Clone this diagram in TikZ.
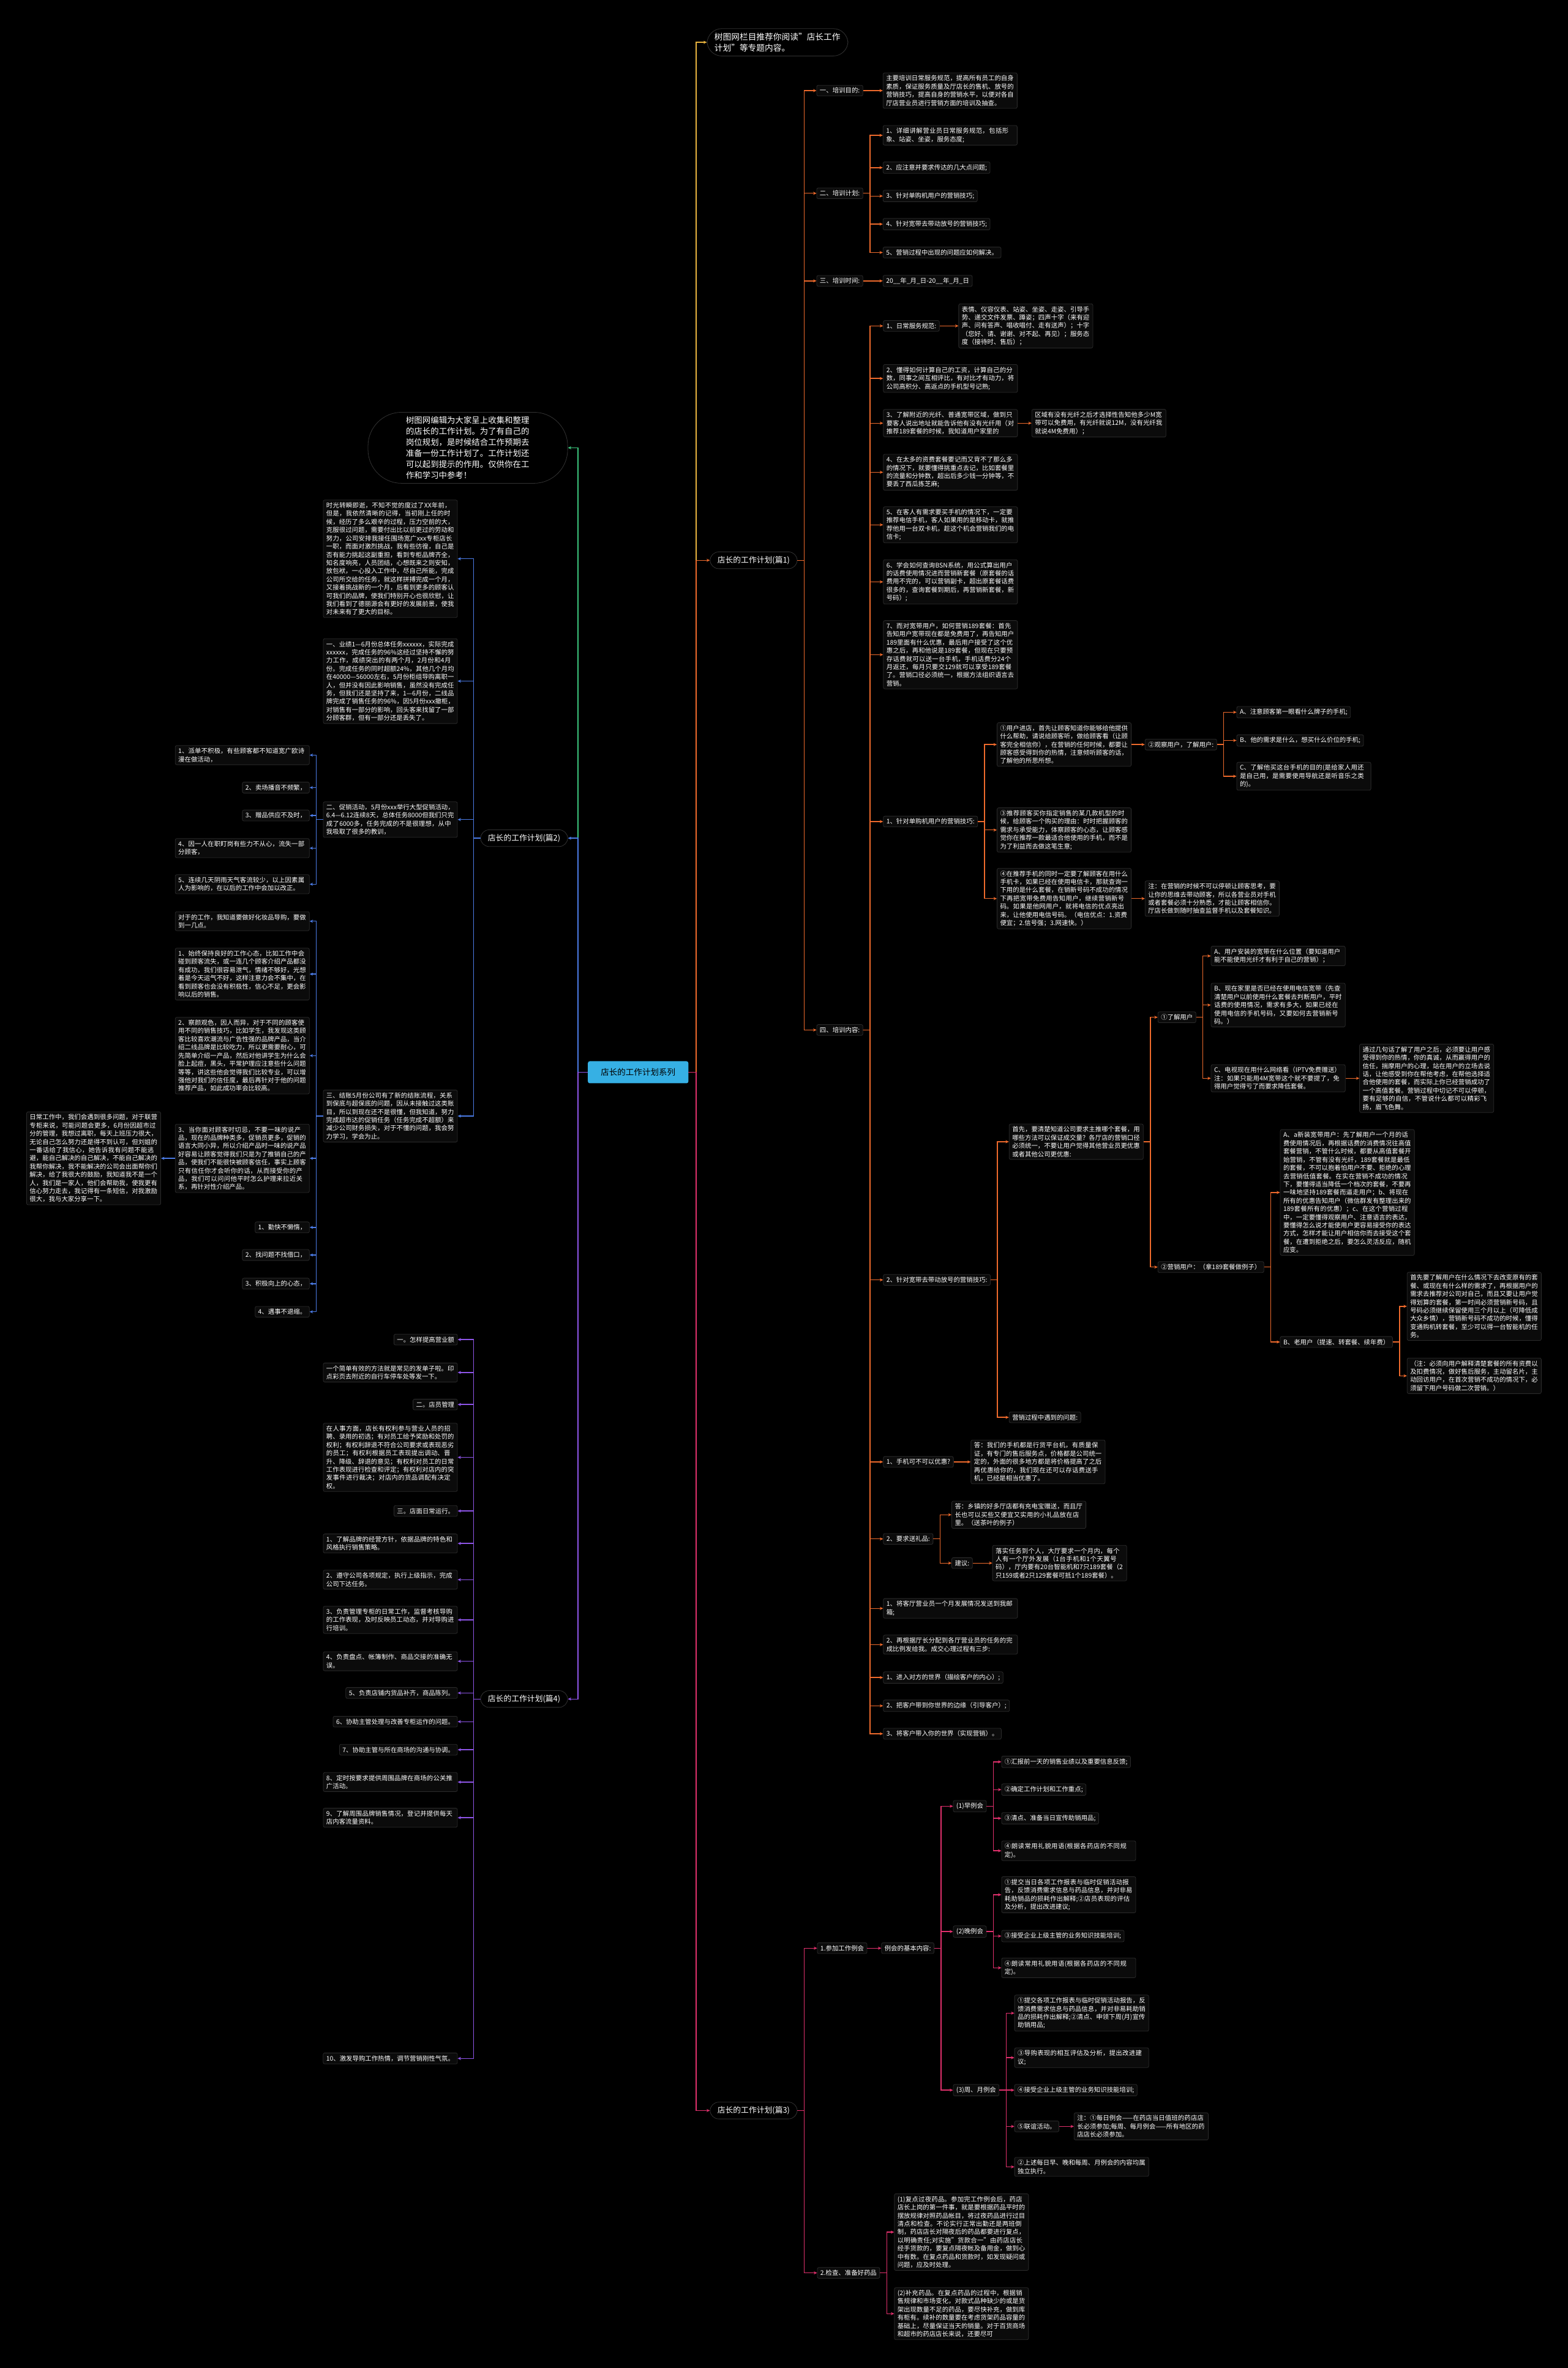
\documentclass[tikz,border=0pt]{standalone}
\usepackage{fontspec}
\setmainfont{Noto Sans CJK SC}
\usetikzlibrary{arrows.meta}
\XeTeXlinebreaklocale "zh"
\XeTeXlinebreakskip=0pt plus 1pt

\definecolor{goldline}{HTML}{E9B43F}
\definecolor{orangeline}{HTML}{EE6A2C}
\definecolor{pinkline}{HTML}{E0306C}
\definecolor{greenline}{HTML}{3CC47C}
\definecolor{blueline}{HTML}{4B7BE5}
\definecolor{purpleline}{HTML}{8E55E8}
\definecolor{rootfill}{HTML}{36B0E4}
\definecolor{boxfill}{HTML}{0B0B0B}
\definecolor{boxedge}{HTML}{2B2B2B}
\definecolor{pilledge}{HTML}{333333}

\newcommand{\bodysize}{\fontsize{10.4}{13.4}\selectfont}
\newcommand{\labelsize}{\fontsize{12.8}{15}\selectfont}

\tikzset{
  leaf/.style={draw=boxedge, fill=boxfill, rounded corners=2.5pt, text=white,
    font=\bodysize, align=left, inner xsep=5pt, inner ysep=4pt, line width=0.8pt},
  leafR/.style={leaf, anchor=west},
  leafL/.style={leaf, anchor=east},
  para/.style={text width=209pt},
  topic/.style={draw=pilledge, fill=black, rounded corners=14pt, text=white,
    font=\labelsize, inner xsep=12pt, inner ysep=7pt, line width=0.8pt},
  rootbox/.style={fill=rootfill, rounded corners=3pt, text=black,
    font=\fontsize{13.5}{16}\selectfont, minimum width=164pt, minimum height=36pt},
  link/.style={line width=1.4pt, -{Stealth[length=5.5pt,width=5pt]}},
}

\begin{document}
\begin{tikzpicture}[x=2.466pt,y=-2.466pt]
% canvas
\useasboundingbox (0,0) rectangle (1038,1568);
\fill[black] (0,0) rectangle (1038,1568);

% centre
\node[rootbox] (root) at (422.5,710) {店长的工作计划系列};

% ---------------- right side ----------------
\node[topic, anchor=west, text width=206pt, align=left, rounded corners=24pt,
  font=\fontsize{13.7}{18}\selectfont] (note) at (468,28)
  {树图网栏目推荐你阅读"店长工作计划"等专题内容。};
\node[topic, anchor=west] (p1) at (470,371) {店长的工作计划(篇1)};
\node[topic, anchor=west] (p3) at (470,1397.5) {店长的工作计划(篇3)};

\draw[link,goldline] (root.east) -- ++(5,0) |- (note.west);
\draw[link,orangeline] (root.east) -- ++(5,0) |- (p1.west);
\draw[link,pinkline] (root.east) -- ++(5,0) |- (p3.west);

% part 1
\node[leafR] (a1) at (540.6,60) {一、培训目的:};
\node[leafR] (a2) at (540.6,128) {二、培训计划:};
\node[leafR] (a3) at (540.6,186) {三、培训时间:};
\node[leafR] (a4) at (540.6,682) {四、培训内容:};
\foreach \k in {a1,a2,a3,a4}
  \draw[link,orangeline] (p1.east) -- ++(4.5,0) |- (\k.west);

\node[leafR, para] (a1x) at (584.5,60) {主要培训日常服务规范，提高所有员工的自身素质，保证服务质量及厅店长的售机、放号的营销技巧，提高自身的营销水平，以便对各自厅店营业员进行营销方面的培训及抽查。};
\draw[link,orangeline] (a1.east) -- (a1x.west);

\node[leafR, para] (a2c1) at (584.5,89.6) {1、详细讲解营业员日常服务规范，包括形象、站姿、坐姿，服务态度;};
\node[leafR] (a2c2) at (584.5,111) {2、应注意并要求传达的几大点问题;};
\node[leafR] (a2c3) at (584.5,129.8) {3、针对单购机用户的营销技巧;};
\node[leafR] (a2c4) at (584.5,148.4) {4、针对宽带去带动放号的营销技巧;};
\node[leafR] (a2c5) at (584.5,167.2) {5、营销过程中出现的问题应如何解决。};
\foreach \k in {a2c1,a2c2,a2c3,a2c4,a2c5}
  \draw[link,orangeline] (a2.east) -- ++(4.5,0) |- (\k.west);

\node[leafR] (a3x) at (584.5,186) {20\_\_年\_月\_日-20\_\_年\_月\_日};
\draw[link,orangeline] (a3.east) -- (a3x.west);

% training content
\node[leafR] (b1) at (584.7,215.8) {1、日常服务规范:};
\node[leafR, para] (b1x) at (634.6,215.8) {表情、仪容仪表、站姿、坐姿、走姿、引导手势、递交文件发票、蹲姿；四声十字（来有迎声、问有答声、唱收唱付、走有送声）；十字（您好、请、谢谢、对不起、再见）；服务态度（接待时、售后）；};
\draw[link,orangeline] (b1.east) -- (b1x.west);
\node[leafR, para] (b2) at (584.7,250.6) {2、懂得如何计算自己的工资，计算自己的分数，同事之间互相评比，有对比才有动力，将公司高积分、高返点的手机型号记熟;};
\node[leafR, para] (b3) at (584.7,280.2) {3、了解附近的光纤、普通宽带区域，做到只要客人说出地址就能告诉他有没有光纤用（对推荐189套餐的时候，我知道用户家里的};
\node[leafR, para] (b3x) at (683,280.2) {区域有没有光纤之后才选择性告知他多少M宽带可以免费用，有光纤就说12M，没有光纤我就说4M免费用）；};
\draw[link,orangeline] (b3.east) -- (b3x.west);
\node[leafR, para] (b4) at (584.7,312.7) {4、在太多的资费套餐要记而又背不了那么多的情况下，就要懂得挑重点去记，比如套餐里的流量和分钟数，超出后多少钱一分钟等，不要丢了西瓜拣芝麻;};
\node[leafR, para] (b5) at (584.7,347.5) {5、在客人有需求要买手机的情况下，一定要推荐电信手机，客人如果用的是移动卡，就推荐他用一台双卡机，趁这个机会营销我们的电信卡;};
\node[leafR, para] (b6) at (584.7,385.3) {6、学会如何查询BSN系统，用公式算出用户的话费使用情况进而营销新套餐（原套餐的话费用不完的，可以营销副卡，超出原套餐话费很多的，查询套餐到期后，再营销新套餐，新号码）;};
\node[leafR, para] (b7) at (584.7,433.5) {7、而对宽带用户，如何营销189套餐：首先告知用户宽带现在都是免费用了，再告知用户189里面有什么优惠，最后用户接受了这个优惠之后，再和他说是189套餐，但现在只要预存话费就可以送一台手机，手机话费分24个月返还，每月只要交129就可以享受189套餐了。营销口径必须统一，根据方法组织语言去营销。};
\node[leafR] (b8) at (584.7,544) {1、针对单购机用户的营销技巧:};
\node[leafR] (b9) at (584.7,847.5) {2、针对宽带去带动放号的营销技巧:};
\node[leafR] (b10) at (584.7,968) {1、手机可不可以优惠?};
\node[leafR] (b11) at (584.7,1019) {2、要求送礼品:};
\node[leafR, para] (b12) at (584.7,1065) {1、将客厅营业员一个月发展情况发送到我邮箱;};
\node[leafR, para] (b13) at (584.7,1089) {2、再根据厅长分配到各厅营业员的任务的完成比例发给我。成交心理过程有三步:};
\node[leafR] (b14) at (584.7,1110.8) {1、进入对方的世界（描绘客户的内心）;};
\node[leafR] (b15) at (584.7,1129.5) {2、把客户带到你世界的边缘（引导客户）;};
\node[leafR] (b16) at (584.7,1148) {3、将客户带入你的世界（实现营销）。};
\foreach \k in {b1,b2,b3,b4,b5,b6,b7,b8,b9,b10,b11,b12,b13,b14,b15,b16}
  \draw[link,orangeline] (a4.east) -- ++(4.5,0) |- (\k.west);

% single phone buyers
\node[leafR, para] (c1) at (660,493) {①用户进店，首先让顾客知道你能够给他提供什么帮助，请说给顾客听，做给顾客看（让顾客完全相信你），在营销的任何时候，都要让顾客感受得到你的热情，注意倾听顾客的话，了解他的所思所想。};
\node[leafR, para] (c2) at (660,549.6) {③推荐顾客买你指定销售的某几款机型的时候，给顾客一个购买的理由：时时把握顾客的需求与承受能力，体察顾客的心态，让顾客感觉你在推荐一款最适合他使用的手机，而不是为了利益而去做这笔生意;};
\node[leafR, para] (c3) at (660,595) {④在推荐手机的同时一定要了解顾客在用什么手机卡，如果已经在使用电信卡，那就查询一下用的是什么套餐，在销新号码不成功的情况下再把宽带免费用告知用户，继续营销新号码。如果是他网用户，就将电信的优点亮出来，让他使用电信号码。（电信优点：1.资费便宜；2.信号强；3.网速快。）};
\foreach \k in {c1,c2,c3}
  \draw[link,orangeline] (b8.east) -- ++(4.5,0) |- (\k.west);
\node[leafR] (c1x) at (758,493) {②观察用户，了解用户:};
\draw[link,orangeline] (c1.east) -- (c1x.west);
\node[leafR] (c1a) at (818.7,471.6) {A、注意顾客第一眼看什么牌子的手机;};
\node[leafR] (c1b) at (818.7,490.3) {B、他的需求是什么，想买什么价位的手机;};
\node[leafR, para] (c1c) at (818.7,514) {C、了解他买这台手机的目的(是给家人用还是自己用，是需要使用导航还是听音乐之类的)。};
\foreach \k in {c1a,c1b,c1c}
  \draw[link,orangeline] (c1x.east) -- ++(4.5,0) |- (\k.west);
\node[leafR, para] (c3x) at (758,595) {注：在营销的时候不可以停顿让顾客思考，要让你的思维去带动顾客，所以各营业员对手机或者套餐必须十分熟悉，才能让顾客相信你。厅店长做到随时抽查监督手机以及套餐知识。};
\draw[link,orangeline] (c3.east) -- (c3x.west);

% broadband users
\node[leafR, para] (d1) at (668,756) {首先，要清楚知道公司要求主推哪个套餐，用哪些方法可以保证成交量？各厅店的营销口径必须统一，不要让用户觉得其他营业员更优惠或者其他公司更优惠:};
\node[leafR] (d2) at (668,938.5) {营销过程中遇到的问题:};
\foreach \k in {d1,d2}
  \draw[link,orangeline] (b9.east) -- ++(4.5,0) |- (\k.west);
\node[leafR] (e1) at (766.5,673.6) {①了解用户};
\node[leafR] (e2) at (766.5,839) {②营销用户：（拿189套餐做例子）};
\foreach \k in {e1,e2}
  \draw[link,orangeline] (d1.east) -- ++(4.5,0) |- (\k.west);
\node[leafR, para] (f1) at (801.7,633) {A、用户安装的宽带在什么位置（要知道用户能不能使用光纤才有利于自己的营销）；};
\node[leafR, para] (f2) at (801.7,665.5) {B、现在家里是否已经在使用电信宽带（先查清楚用户以前使用什么套餐去判断用户，平时话费的使用情况，需求有多大，如果已经在使用电信的手机号码，又要如何去营销新号码。）};
\node[leafR, para] (f3) at (801.7,714) {C、电视现在用什么网络看（IPTV免费赠送）注：如果只能用4M宽带这个就不要提了，免得用户觉得亏了而要求降低套餐。};
\foreach \k in {f1,f2,f3}
  \draw[link,orangeline] (e1.east) -- ++(4.5,0) |- (\k.west);
\node[leafR, para] (f3x) at (900,714) {通过几句话了解了用户之后，必须要让用户感受得到你的热情，你的真诚，从而赢得用户的信任，揣摩用户的心理，站在用户的立场去说话，让他感受到你在帮他考虑，在帮他选择适合他使用的套餐，而实际上你已经营销成功了一个高值套餐。营销过程中切记不可以停顿，要有足够的自信，不管说什么都可以精彩飞扬，眉飞色舞。};
\draw[link,orangeline] (f3.east) -- (f3x.west);
\node[leafR, para] (g1) at (847.5,789.6) {A、a新装宽带用户：先了解用户一个月的话费使用情况后，再根据话费的消费情况往高值套餐营销，不管什么时候，都要从高值套餐开始营销，不管有没有光纤，189套餐就是最低的套餐，不可以抱着怕用户不要、拒绝的心理去营销低值套餐。在实在营销不成功的情况下，要懂得适当降低一个档次的套餐，不要再一味地坚持189套餐而逼走用户；b、将现在所有的优惠告知用户（微信群发有整理出来的189套餐所有的优惠）；c、在这个营销过程中，一定要懂得观察用户、注意语言的表达，要懂得怎么说才能使用户更容易接受你的表达方式，怎样才能让用户相信你而去接受这个套餐，在遭到拒绝之后，要怎么灵活反应，随机应变。};
\node[leafR] (g2) at (847.5,888.6) {B、老用户（提速、转套餐、续年费）};
\foreach \k in {g1,g2}
  \draw[link,orangeline] (e2.east) -- ++(4.5,0) |- (\k.west);
\node[leafR, para] (h1) at (931.5,865) {首先要了解用户在什么情况下去改变原有的套餐、或现在有什么样的需求了，再根据用户的需求去推荐对公司对自己，而且又要让用户觉得划算的套餐，第一时间必须营销新号码，且号码必须继续保留使用三个月以上（可降低成大众乡情），营销新号码不成功的时候，懂得变通购机转套餐，至少可以得一台智能机的任务。};
\node[leafR, para] (h2) at (931.5,911) {（注：必须向用户解释清楚套餐的所有资费以及扣费情况，做好售后服务，主动留名片，主动回访用户，在首次营销不成功的情况下，必须留下用户号码做二次营销。）};
\foreach \k in {h1,h2}
  \draw[link,orangeline] (g2.east) -- ++(4.5,0) |- (\k.west);

% questions
\node[leafR, para] (b10x) at (642.7,968) {答：我们的手机都是行货平台机，有质量保证，有专门的售后服务点，价格都是公司统一定的，外面的很多地方都是将价格提高了之后再优惠给你的，我们现在还可以存话费送手机，已经是相当优惠了。};
\draw[link,orangeline] (b10.east) -- (b10x.west);
\node[leafR, para] (i1) at (630,1003) {答：乡镇的好多厅店都有充电宝赠送，而且厅长也可以买些又便宜又实用的小礼品放在店里。（送茶叶的例子）};
\node[leafR] (i2) at (630,1035) {建议:};
\foreach \k in {i1,i2}
  \draw[link,orangeline] (b11.east) -- ++(4.5,0) |- (\k.west);
\node[leafR, para] (i2x) at (657,1035) {落实任务到个人，大厅要求一个月内，每个人有一个厅外发展（1台手机和1个天翼号码），厅内要有20台智能机和7只189套餐（2只159或者2只129套餐可抵1个189套餐）。};
\draw[link,orangeline] (i2.east) -- (i2x.west);

% part 3
\node[leafR] (q1) at (541,1290) {1.参加工作例会};
\node[leafR] (q2) at (541,1505) {2.检查、准备好药品};
\foreach \k in {q1,q2}
  \draw[link,pinkline] (p3.east) -- ++(4.5,0) |- (\k.west);
\node[leafR] (q1x) at (583.5,1290) {例会的基本内容:};
\draw[link,pinkline] (q1.east) -- (q1x.west);
\node[leafR] (r1) at (631,1196) {(1)早例会};
\node[leafR] (r2) at (631,1279) {(2)晚例会};
\node[leafR] (r3) at (631,1384) {(3)周、月例会};
\foreach \k in {r1,r2,r3}
  \draw[link,pinkline] (q1x.east) -- ++(4.5,0) |- (\k.west);
\node[leafR] (r1a) at (663,1166.6) {①汇报前一天的销售业绩以及重要信息反馈;};
\node[leafR] (r1b) at (663,1185) {②确定工作计划和工作重点;};
\node[leafR] (r1c) at (663,1204) {③清点、准备当日宣传助销用品;};
\node[leafR, para] (r1d) at (663,1225.5) {④朗读常用礼貌用语(根据各药店的不同规定)。};
\foreach \k in {r1a,r1b,r1c,r1d}
  \draw[link,pinkline] (r1.east) -- ++(4.5,0) |- (\k.west);
\node[leafR, para] (r2a) at (663,1254.6) {①提交当日各项工作报表与临时促销活动报告，反馈消费需求信息与药品信息，并对非易耗助销品的损耗作出解释;②店员表现的评估及分析，提出改进建议;};
\node[leafR] (r2b) at (663,1282) {③接受企业上级主管的业务知识技能培训;};
\node[leafR, para] (r2c) at (663,1303) {④朗读常用礼貌用语(根据各药店的不同规定)。};
\foreach \k in {r2a,r2b,r2c}
  \draw[link,pinkline] (r2.east) -- ++(4.5,0) |- (\k.west);
\node[leafR, para] (r3a) at (671.6,1333) {①提交各项工作报表与临时促销活动报告，反馈消费需求信息与药品信息，并对非易耗助销品的损耗作出解释;②清点、申领下周(月)宣传助销用品;};
\node[leafR, para] (r3b) at (671.6,1362.5) {③导购表现的相互评估及分析，提出改进建议;};
\node[leafR] (r3c) at (671.6,1384) {④接受企业上级主管的业务知识技能培训;};
\node[leafR] (r3d) at (671.6,1408) {⑤联谊活动。};
\node[leafR, para] (r3e) at (671.6,1434.8) {②上述每日早、晚和每周、月例会的内容均属独立执行。};
\foreach \k in {r3a,r3b,r3c,r3d,r3e}
  \draw[link,pinkline] (r3.east) -- ++(4.5,0) |- (\k.west);
\node[leafR, para] (r3dx) at (711,1408) {注：①每日例会——在药店当日值班的药店店长必须参加;每周、每月例会——所有地区的药店店长必须参加。};
\draw[link,pinkline] (r3d.east) -- (r3dx.west);
\node[leafR, para] (q2a) at (592,1478) {(1)复点过夜药品。参加完工作例会后，药店店长上岗的第一件事，就是要根据药品平时的摆放规律对照药品帐目，将过夜药品进行过目清点和检查。不论实行正常出勤还是两班倒制，药店店长对隔夜后的药品都要进行复点，以明确责任;对实施"货款合一"由药店店长经手货款的，要复点隔夜帐及备用金，做到心中有数。在复点药品和货款时，如发现疑问或问题，应及时处理。};
\node[leafR, para] (q2b) at (592,1532) {(2)补充药品。在复点药品的过程中，根据销售规律和市场变化，对款式品种缺少的或是货架出现数量不足的药品，要尽快补充，做到库有柜有。续补的数量要在考虑货架药品容量的基础上，尽量保证当天的销量。对于百货商场和超市的药店店长来说，还要尽可};
\foreach \k in {q2a,q2b}
  \draw[link,pinkline] (q2.east) -- ++(4.5,0) |- (\k.west);

% ---------------- left side ----------------
\node[topic, anchor=east, text width=202pt, align=left, rounded corners=55pt,
  inner xsep=62pt, font=\fontsize{13.4}{17.9}\selectfont] (intro) at (376,296.5)
  {树图网编辑为大家呈上收集和整理的店长的工作计划。为了有自己的岗位规划，是时候结合工作预期去准备一份工作计划了。工作计划还可以起到提示的作用。仅供你在工作和学习中参考！};
\node[topic, anchor=east] (p2) at (376,555) {店长的工作计划(篇2)};
\node[topic, anchor=east] (p4) at (376,1125) {店长的工作计划(篇4)};

\draw[link,greenline] (root.west) -- ++(-6.5,0) |- (intro.east);
\draw[link,blueline] (root.west) -- ++(-6.5,0) |- (p2.east);
\draw[link,purpleline] (root.west) -- ++(-6.5,0) |- (p4.east);

% part 2
\node[leafL, para] (s1) at (303,370) {时光转瞬即逝，不知不觉的度过了XX年前，但是，我依然清晰的记得，当初刚上任的时候，经历了多么艰辛的过程，压力空前的大，克服很过问题，需要付出比以前更过的劳动和努力，公司安排我接任围场宽广xxx专柜店长一职，而面对激烈挑战，我有些彷徨，自己是否有能力挑起这副重担，看到专柜品牌齐全，知名度响亮，人员团结，心想既来之则安知，放包袱，一心投入工作中，尽自己所能，完成公司所交给的任务，就这样拼搏完成一个月，又接着挑战新的一个月，后看到更多的顾客认可我们的品牌，使我们特别开心也很欣慰，让我们看到了德丽源会有更好的发展前景，使我对未来有了更大的目标。};
\node[leafL, para] (s2) at (303,451) {一、业绩1—6月份总体任务xxxxxx，实际完成xxxxxx，完成任务的96\%这经过坚持不懈的努力工作，成绩突出的有两个月，2月份和4月份。完成任务的同时超额24\%，其他几个月均在40000—56000左右，5月份柜组导购离职一人，但并没有因此影响销售，虽然没有完成任务，但我们还是坚持了来，1—6月份，二线品牌完成了销售任务的96\%，因5月份xxx撤柜，对销售有一部分的影响，回头客来找留了一部分顾客群，但有一部分还是丢失了。};
\node[leafL, para] (s3) at (303,542.7) {二、促销活动，5月份xxx举行大型促销活动，6.4—6.12连续8天，总体任务8000但我们只完成了6000多，任务完成的不是很理想，从中我吸取了很多的教训，};
\node[leafL, para] (s4) at (303,739) {三、结账5月份公司有了新的结账流程，关系到保底与超保底的问题，因从未接触过这类账目，所以到现在还不是很懂，但我知道，努力完成超市达的促销任务（任务完成不超额）来减少公司财务损失，对于不懂的问题，我会努力学习，学会为止。};
\foreach \k in {s1,s2,s3,s4}
  \draw[link,blueline] (p2.west) -- ++(-4.5,0) |- (\k.east);

\node[leafL, para] (u1) at (205,500) {1、派单不积极，有些顾客都不知道宽广欧诗漫在做活动，};
\node[leafL] (u2) at (205,521.5) {2、卖场播音不频繁，};
\node[leafL] (u3) at (205,540) {3、赠品供应不及时，};
\node[leafL, para] (u4) at (205,561.6) {4、因一人在职盯岗有些力不从心，流失一部分顾客，};
\node[leafL, para] (u5) at (205,585.5) {5、连续几天阴雨天气客流较少，以上因素属人为影响的，在以后的工作中会加以改正。};
\foreach \k in {u1,u2,u3,u4,u5}
  \draw[link,blueline] (s3.west) -- ++(-4.5,0) |- (\k.east);

\node[leafL, para] (v1) at (205,610) {对于的工作，我知道要做好化妆品导购，要做到一几点。};
\node[leafL, para] (v2) at (205,645) {1、始终保持良好的工作心态，比如工作中会碰到顾客流失，或一连几个顾客介绍产品都没有成功，我们很容易泄气，情绪不够好，光想着是今天运气不好，这样注意力会不集中，在看到顾客也会没有积极性，信心不足，更会影响以后的销售。};
\node[leafL, para] (v3) at (205,699) {2、察颜观色，因人而异，对于不同的顾客使用不同的销售技巧，比如学生，我发现这类顾客比较喜欢潮流与广告性强的品牌产品，当介绍二线品牌是比较吃力，所以更需要耐心，可先简单介绍一产品，然后对他讲学生为什么会脸上起痘，黑头，平常护理应注意些什么问题等等，讲这些他会觉得我们比较专业，可以增强他对我们的信任度，最后再针对于他的问题推荐产品，如此成功率会比较高。};
\node[leafL, para] (v4) at (205,767) {3、当你面对顾客时切忌，不要一味的说产品，现在的品牌种类多，促销员更多，促销的语言大同小异，所以介绍产品时一味的说产品好容易让顾客觉得我们只是为了推销自己的产品，使我们不能很快被顾客信任，事实上顾客只有信任你才会听你的话，从而接受你的产品，我们可以问问他平时怎么护理来拉近关系，再针对性介绍产品。};
\node[leafL] (v5) at (205,812.7) {1、勤快不懒惰，};
\node[leafL] (v6) at (205,831) {2、找问题不找借口，};
\node[leafL] (v7) at (205,850) {3、积极向上的心态，};
\node[leafL] (v8) at (205,868.6) {4、遇事不退缩。};
\foreach \k in {v1,v2,v3,v4,v5,v6,v7,v8}
  \draw[link,blueline] (s4.west) -- ++(-4.5,0) |- (\k.east);
\node[leafL, para] (v4x) at (106.6,767) {日常工作中，我们会遇到很多问题，对于联营专柜来说，可能问题会更多，6月份因超市过分的管理，我想过离职，每天上班压力很大，无论自己怎么努力还是得不到认可，但刘姐的一番话给了我信心，她告诉我有问题不能逃避，能自己解决的自己解决，不能自己解决的我帮你解决，我不能解决的公司会出面帮你们解决，给了我很大的鼓励，我知道我不是一个人，我们是一家人，他们会帮助我，使我更有信心努力走去，我记得有一条短信，对我激励很大，我与大家分享一下。};
\draw[link,blueline] (v4.west) -- (v4x.east);

% part 4
\node[leafL] (t1) at (303,887) {一。怎样提高营业额};
\node[leafL, para] (t2) at (303,908.8) {一个简单有效的方法就是常见的发单子啦。印点彩页去附近的自行车停车处等发一下。};
\node[leafL] (t3) at (303,930) {二。店员管理};
\node[leafL, para] (t4) at (303,965) {在人事方面，店长有权利参与营业人员的招聘、录用的初选；有对员工给予奖励和处罚的权利；有权利辞退不符合公司要求或表现恶劣的员工；有权利根据员工表现提出调动、晋升、降级、辞退的意见；有权利对员工的日常工作表现进行检查和评定；有权利对店内的突发事件进行裁决；对店内的货品调配有决定权。};
\node[leafL] (t5) at (303,1000.5) {三。店面日常运行。};
\node[leafL, para] (t6) at (303,1022) {1、了解品牌的经营方针，依据品牌的特色和风格执行销售策略。};
\node[leafL, para] (t7) at (303,1046) {2、遵守公司各项规定，执行上级指示，完成公司下达任务。};
\node[leafL, para] (t8) at (303,1072.6) {3、负责管理专柜的日常工作，监督考核导购的工作表现，及时反映员工动态，并对导购进行培训。};
\node[leafL, para] (t9) at (303,1100) {4、负责盘点、帐簿制作、商品交接的准确无误。};
\node[leafL] (t10) at (303,1121) {5、负责店铺内货品补齐，商品陈列。};
\node[leafL] (t11) at (303,1140) {6、协助主管处理与改善专柜运作的问题。};
\node[leafL] (t12) at (303,1158.6) {7、协助主管与所在商场的沟通与协调。};
\node[leafL, para] (t13) at (303,1180) {8、定时按要求提供周围品牌在商场的公关推广活动。};
\node[leafL, para] (t14) at (303,1203.6) {9、了解周围品牌销售情况，登记并提供每天店内客流量资料。};
\node[leafL] (t15) at (303,1363) {10、激发导购工作热情，调节营销刚性气氛。};
\foreach \k in {t1,t2,t3,t4,t5,t6,t7,t8,t9,t10,t11,t12,t13,t14,t15}
  \draw[link,purpleline] (p4.west) -- ++(-4.5,0) |- (\k.east);
\end{tikzpicture}
\end{document}
